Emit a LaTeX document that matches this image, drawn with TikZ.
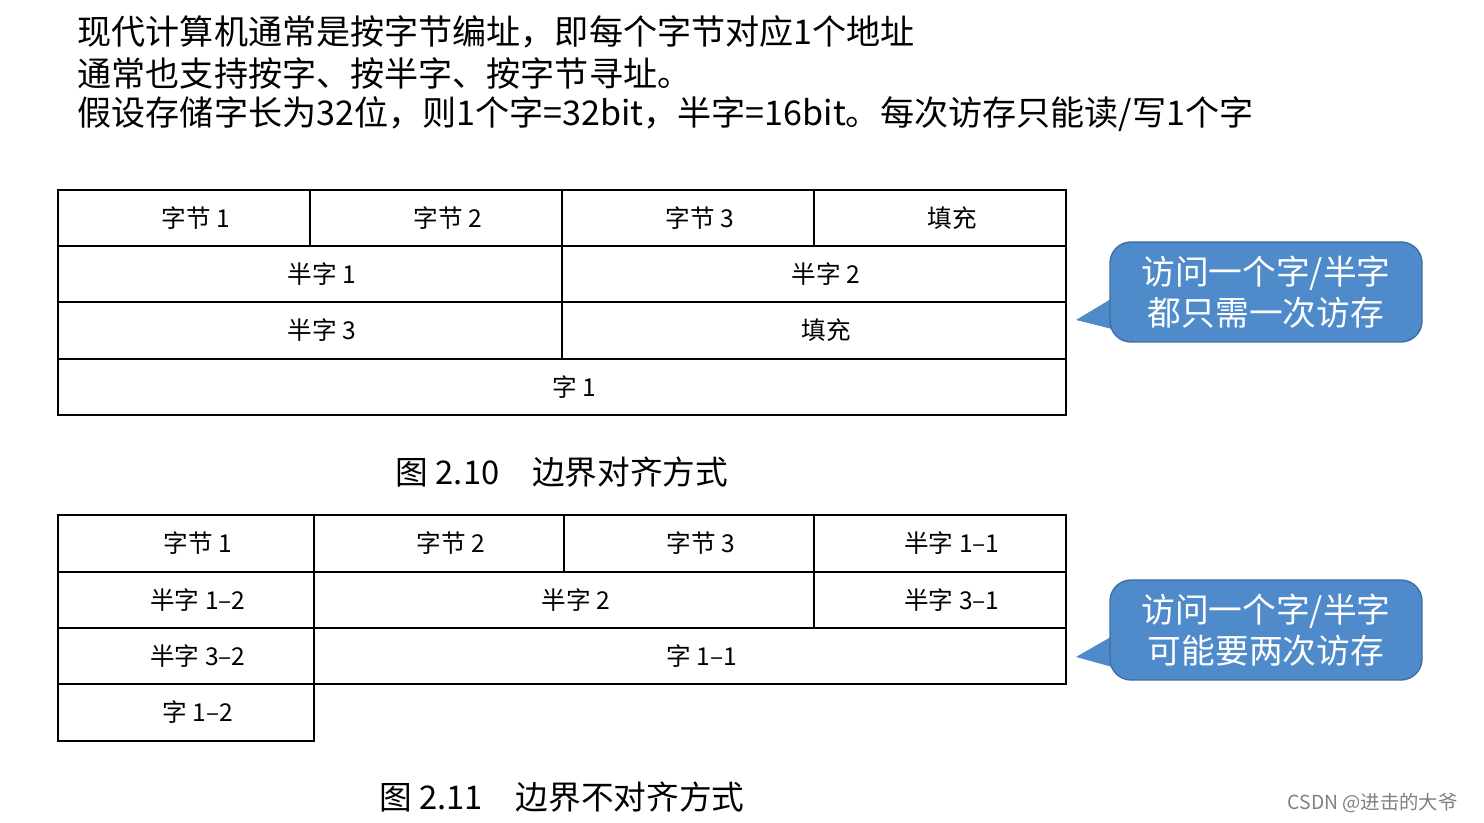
\documentclass[tikz,border=0pt]{standalone}
\usepackage{fontspec}
\setmainfont{Noto Sans CJK SC}
\definecolor{calloutblue}{HTML}{4F8ACB}
\tikzset{
  cellbox/.style={draw, line width=0.6pt},
  celltext/.style={font=\fontsize{7}{8}\selectfont, xshift=1.2mm},
  headtext/.style={anchor=west, inner sep=0pt, font=\fontsize{9.7}{11}\selectfont},
  callout/.style={fill=calloutblue, draw=calloutblue!80!black, rounded corners=6pt, text=white,
    minimum width=31.2mm, minimum height=10mm, align=center, font=\fontsize{9.6}{11.5}\selectfont},
}
\begin{document}
\begin{tikzpicture}[x=0.1mm, y=-0.1mm]
  \useasboundingbox (0,0) rectangle (1484,823);
  % header
  \node[headtext] (l1) at (77,32) {现代计算机通常是按字节编址，即每个字节对应1个地址};
  \node[headtext] (l2) at (77,73) {通常也支持按字、按半字、按字节寻址。};
  \node[headtext] (l3) at (77,114) {假设存储字长为32位，则1个字=32bit，半字=16bit。每次访存只能读/写1个字};

  % aligned
  \draw[cellbox] (58,190) rectangle (310,246) node[midway, celltext] (a1) {字节 1};
  \draw[cellbox] (310,190) rectangle (562,246) node[midway, celltext] (a2) {字节 2};
  \draw[cellbox] (562,190) rectangle (814,246) node[midway, celltext] (a3) {字节 3};
  \draw[cellbox] (814,190) rectangle (1066,246) node[midway, celltext] (a4) {填充};
  \draw[cellbox] (58,246) rectangle (562,302) node[midway, celltext] (a5) {半字 1};
  \draw[cellbox] (562,246) rectangle (1066,302) node[midway, celltext] (a6) {半字 2};
  \draw[cellbox] (58,302) rectangle (562,359) node[midway, celltext] (a7) {半字 3};
  \draw[cellbox] (562,302) rectangle (1066,359) node[midway, celltext] (a8) {填充};
  \draw[cellbox] (58,359) rectangle (1066,415) node[midway, celltext] (a9) {字 1};
  \node[font=\fontsize{9.3}{10}\selectfont] (cap1) at (562,472) {图 2.10\quad 边界对齐方式};

  % unaligned
  \draw[cellbox] (58,515) rectangle (314,572) node[midway, celltext] (b1) {字节 1};
  \draw[cellbox] (314,515) rectangle (564,572) node[midway, celltext] (b2) {字节 2};
  \draw[cellbox] (564,515) rectangle (814,572) node[midway, celltext] (b3) {字节 3};
  \draw[cellbox] (814,515) rectangle (1066,572) node[midway, celltext] (b4) {半字 1--1};
  \draw[cellbox] (58,572) rectangle (314,628) node[midway, celltext] (b5) {半字 1--2};
  \draw[cellbox] (314,572) rectangle (814,628) node[midway, celltext] (b6) {半字 2};
  \draw[cellbox] (814,572) rectangle (1066,628) node[midway, celltext] (b7) {半字 3--1};
  \draw[cellbox] (58,628) rectangle (314,684) node[midway, celltext] (b8) {半字 3--2};
  \draw[cellbox] (314,628) rectangle (1066,684) node[midway, celltext] (b9) {字 1--1};
  \draw[cellbox] (58,684) rectangle (314,741) node[midway, celltext] (b10) {字 1--2};
  \node[font=\fontsize{9.3}{10}\selectfont] (cap2) at (562,797) {图 2.11\quad 边界不对齐方式};

  % callouts
  \coordinate (tip1) at (1076,320);
  \coordinate (tip2) at (1076,657);
  \fill[calloutblue] (1116,296) -- (tip1) -- (1116,330) -- cycle;
  \node[callout] (note1) at (1266,292) {访问一个字/半字\\都只需一次访存};
  \fill[calloutblue] (1116,634) -- (tip2) -- (1116,668) -- cycle;
  \node[callout] (note2) at (1266,630) {访问一个字/半字\\可能要两次访存};

  \node[anchor=east, text=gray, font=\fontsize{5.5}{6}\selectfont] (mark) at (1470,803) {CSDN @进击的大爷};
\end{tikzpicture}
\end{document}
